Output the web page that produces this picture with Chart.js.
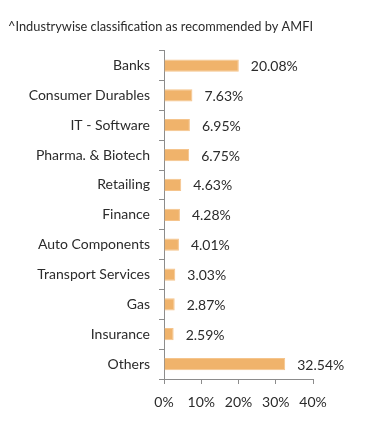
<!DOCTYPE html>
<html lang="en">
<head>
    <meta charset="UTF-8">
    <title>Industry allocation</title>
    <style>
        html, body { margin: 0; padding: 0; background: #fff; }
        #wrap { width: 391px; height: 435px; }
    </style>
</head>
<body>
    <div id="wrap">
        <canvas id="graficoSetores" width="391" height="435"></canvas>
    </div>

    <script src="https://cdn.jsdelivr.net/npm/chart.js"></script>
    <script>
        // dados
        var setores = ['Banks', 'Consumer Durables', 'IT - Software', 'Pharma. & Biotech', 'Retailing',
            'Finance', 'Auto Components', 'Transport Services', 'Gas', 'Insurance', 'Others'];
        var pesos = [20.08, 7.63, 6.95, 6.75, 4.63, 4.28, 4.01, 3.03, 2.87, 2.59, 32.54];
        var ticksX = [0, 10, 20, 30, 40];

        var fonte = 'Lato, "Open Sans", sans-serif';

        // escreve o valor ao lado de cada barra
        var rotulosValor = {
            id: 'rotulosValor',
            afterDatasetsDraw: function (chart) {
                var ctx = chart.ctx;
                var meta = chart.getDatasetMeta(0);
                ctx.save();
                ctx.font = '14px ' + fonte;
                ctx.fillStyle = '#2b2b2b';
                ctx.textBaseline = 'middle';
                ctx.textAlign = 'left';
                meta.data.forEach(function (barra, i) {
                    ctx.fillText(pesos[i].toFixed(2) + '%', barra.x + 12, barra.y + 1);
                });
                ctx.restore();
            }
        };

        var ctx = document.getElementById('graficoSetores').getContext('2d');
        new Chart(ctx, {
            type: 'bar',
            data: {
                labels: setores,
                datasets: [{
                    data: pesos,
                    backgroundColor: '#f0b36b',
                    borderColor: '#f5c48c',
                    borderWidth: 1,
                    borderSkipped: 'left',
                    barPercentage: 0.41,
                    categoryPercentage: 1
                }]
            },
            options: {
                indexAxis: 'y',
                responsive: false,
                animation: false,
                devicePixelRatio: 1,
                layout: {
                    padding: { left: 8, right: 78, top: 0, bottom: 0 }
                },
                plugins: {
                    legend: { display: false },
                    tooltip: { enabled: false },
                    title: {
                        display: true,
                        text: '^Industrywise classification as recommended by AMFI',
                        align: 'start',
                        color: '#2b2b2b',
                        font: { family: fonte, size: 13, weight: 'normal' },
                        padding: { top: 19, bottom: 16 }
                    }
                },
                scales: {
                    x: {
                        min: 0,
                        max: 40,
                        afterBuildTicks: function (eixo) {
                            eixo.ticks = ticksX.map(function (v) { return { value: v }; });
                        },
                        afterFit: function (eixo) { eixo.height = 56; },
                        grid: {
                            display: true,
                            drawOnChartArea: false,
                            drawTicks: true,
                            tickLength: 5,
                            color: '#8c8c8c'
                        },
                        border: { display: true, color: '#8c8c8c', width: 1 },
                        ticks: {
                            padding: 10,
                            color: '#2b2b2b',
                            font: { family: fonte, size: 14 },
                            callback: function (v) { return v + '%'; }
                        }
                    },
                    y: {
                        afterFit: function (eixo) { eixo.width = 156; },
                        grid: {
                            display: true,
                            drawOnChartArea: false,
                            drawTicks: true,
                            tickLength: 5,
                            offset: true,
                            color: '#8c8c8c'
                        },
                        border: { display: true, color: '#8c8c8c', width: 1 },
                        ticks: {
                            padding: 9,
                            color: '#2b2b2b',
                            font: { family: fonte, size: 14 }
                        }
                    }
                }
            },
            plugins: [rotulosValor]
        });
    </script>
</body>
</html>
